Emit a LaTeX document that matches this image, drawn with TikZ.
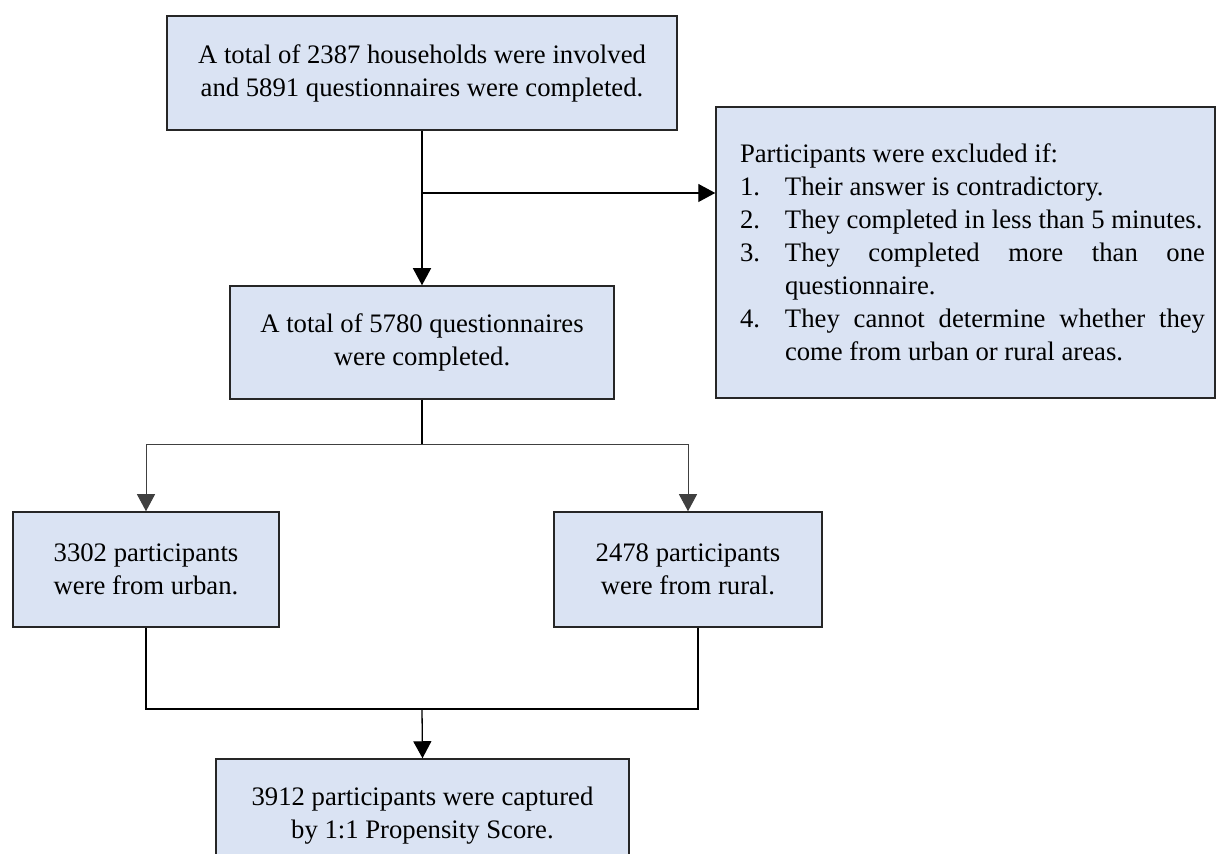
\documentclass[tikz,border=0pt]{standalone}
\usepackage{fontspec}
\setmainfont{Liberation Serif}
\usetikzlibrary{arrows.meta}
\definecolor{boxblue}{HTML}{DAE3F3}

\begin{document}
\begin{tikzpicture}[x=0.5pt,y=-0.5pt,
		box/.style={draw=black!85,line width=0.75pt,fill=boxblue,align=center,inner sep=0pt,font=\fontsize{13.35}{16.5}\selectfont},
		link/.style={black,line width=0.65pt,-{Triangle[width=9pt,length=8.5pt]}},
		thin link/.style={link,black!75,line width=0.5pt},
		plain/.style={black,line width=0.65pt}]
		\useasboundingbox (0,0) rectangle (1216,854);
		%
		\node[box,minimum width=255pt,minimum height=57pt] (total) at (422,73) {A total of 2387 households were involved\\and 5891 questionnaires were completed.};
		\node[box,minimum width=192pt,minimum height=56.5pt] (valid) at (422,342.5) {A total of 5780 questionnaires\\were completed.};
		\node[box,minimum width=249.5pt,minimum height=145.5pt,text width=239.5pt,align=justify] (exclude) at (965.5,252.5) {\leftskip=7pt\hyphenpenalty=10000\tolerance=10000
			Participants were excluded if:\par
			\hangindent=22.5pt\hangafter=1\noindent\makebox[22.5pt][l]{1.}Their answer is contradictory.\par
			\hangindent=22.5pt\hangafter=1\noindent\makebox[22.5pt][l]{2.}They completed in less than 5 minutes.\par
			\hangindent=22.5pt\hangafter=1\noindent\makebox[22.5pt][l]{3.}They completed more than one\linebreak questionnaire.\par
			\hangindent=22.5pt\hangafter=1\noindent\makebox[22.5pt][l]{4.}They cannot determine whether they\linebreak come from urban or rural areas.\par};
		%
		\node[box,minimum width=133pt,minimum height=57.5pt] (urban) at (146,569.5) {3302 participants\\were from urban.};
		\node[box,minimum width=134pt,minimum height=57.5pt] (rural) at (688,569.5) {2478 participants\\were from rural.};
		\node[box,minimum width=206.5pt,minimum height=57pt] (matched) at (422.5,816) {3912 participants were captured\\by 1:1 Propensity Score.};
		%
		\coordinate (split) at (422,193);
		\coordinate (fork) at (422,445);
		\coordinate (join) at (422,709);
		%
		\draw[link] (total.south) -- (valid.north);
		\draw[link] (split) -- (split -| exclude.west);
		%
		\draw[plain] (valid.south) -- (fork);
		\draw[thin link] (fork) -| (urban.north);
		\draw[thin link] (fork) -| (rural.north);
		%
		\draw[plain] (urban.south) |- (join);
		\draw[plain] ([xshift=5pt]rural.south) |- (join);
		\draw[link] (join) -- (matched.north);
	\end{tikzpicture}
\end{document}
